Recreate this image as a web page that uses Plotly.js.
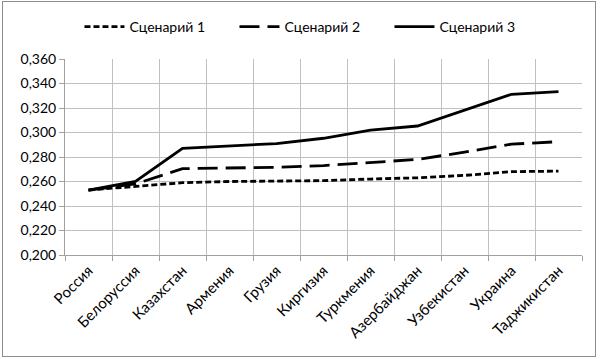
<!DOCTYPE html>
<html><head><meta charset="utf-8">
<script src="https://cdn.plot.ly/plotly-3.0.1.min.js"></script>
<style>html,body{margin:0;padding:0;background:#fff;}#chart{width:600px;height:359px;}
#frame{position:absolute;left:2px;top:1px;width:592px;height:354px;border:1.5px solid #8c8c8c;pointer-events:none;}</style>
</head><body>
<div id="chart"></div><div id="frame"></div>
<script>
const categories = ["Россия","Белоруссия","Казахстан","Армения","Грузия","Киргизия","Туркмения","Азербайджан","Узбекистан","Украина","Таджикистан"];
const scenario1 = [0.253,0.256,0.259,0.260,0.2605,0.2607,0.262,0.263,0.265,0.268,0.2685];
const scenario2 = [0.253,0.258,0.2705,0.271,0.2716,0.273,0.2755,0.278,0.284,0.2905,0.2925];
const scenario3 = [0.253,0.260,0.287,0.289,0.291,0.2953,0.302,0.3053,0.318,0.3312,0.3333];
const seriesNames = ["Сценарий 1","Сценарий 2","Сценарий 3"];
const yTicks = [0.200,0.220,0.240,0.260,0.280,0.300,0.320,0.340,0.360];

const font = {family:"Lato, 'Open Sans', sans-serif", size:13, color:"#000"};
const traces = [
  {x:categories, y:scenario1, name:seriesNames[0], mode:"lines", line:{color:"#000", width:2.8, dash:"6px,3px"}},
  {x:categories, y:scenario2, name:seriesNames[1], mode:"lines", line:{color:"#000", width:2.8, dash:"20px,8px"}},
  {x:categories, y:scenario3, name:seriesNames[2], mode:"lines", line:{color:"#000", width:2.8}}
];
const layout = {
  width:600, height:359,
  margin:{l:65, r:18, t:59, b:104, autoexpand:false},
  paper_bgcolor:"#fff", plot_bgcolor:"#fff",
  font:font,
  separators:", ",
  showlegend:true,
  legend:{orientation:"h", x:0.028, xanchor:"left", y:1.163, yanchor:"middle", font:{family:font.family,size:14},
    itemwidth:40, entrywidth:100, entrywidthmode:"pixels", tracegroupgap:0},
  xaxis:{type:"category", tickson:"boundaries", showgrid:true, gridcolor:"#c0c0c0", gridwidth:1,
    ticks:"outside", ticklen:5, tickcolor:"#a0a0a0", showline:true, linecolor:"#a0a0a0", linewidth:1,
    tickangle:-45, tickfont:{family:font.family,size:15}, range:[-0.5,10.5], zeroline:false, automargin:false},
  yaxis:{range:[0.2,0.36], tickvals:yTicks, tickformat:".3f", showgrid:true, gridcolor:"#c0c0c0", gridwidth:1,
    ticks:"outside", ticklen:5, tickcolor:"#a0a0a0", showline:true, linecolor:"#a0a0a0", linewidth:1,
    tickfont:{family:font.family,size:14}, zeroline:false, automargin:false}
};
Plotly.newPlot("chart", traces, layout, {staticPlot:true, displayModeBar:false});
</script>
</body></html>
